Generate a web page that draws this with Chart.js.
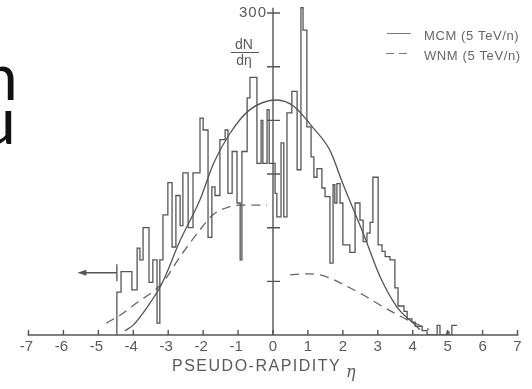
<!DOCTYPE html>
<html lang="en">

<head>
    <meta charset="UTF-8">
    <title>Pseudo-rapidity distribution</title>
    <script src="https://cdn.jsdelivr.net/npm/chart.js"></script>
    <style>
        html, body {
            margin: 0;
            padding: 0;
            background: #fff;
        }

        body {
            width: 532px;
            height: 389px;
            position: relative;
            overflow: hidden;
        }

        #wrap {
            position: absolute;
            left: 0;
            top: 0;
        }

        .slide-text {
            position: absolute;
            font-family: Lato, sans-serif;
            font-size: 64px;
            line-height: 1;
            color: #111;
        }
    </style>
</head>

<body>
    <div class="slide-text" style="left: -18px; top: 44px;">n</div>
    <div class="slide-text" style="left: -20px; top: 88px;">u</div>
    <div id="wrap"><canvas id="grafico" width="532" height="389"></canvas></div>

    <script>
        // histogram: bin edges in eta and counts per bin (one less than edges)
        const binEdges = [-4.47, -4.35, -4.04, -3.89, -3.81, -3.72, -3.55, -3.44, -3.32, -3.24, -3.15, -3.01,
            -2.89, -2.78, -2.66, -2.58, -2.43, -2.29, -2.09, -2.00, -1.86, -1.75, -1.66, -1.52, -1.37, -1.29,
            -1.17, -1.03, -0.94, -0.89, -0.74, -0.66, -0.46, -0.34, -0.29, -0.17, -0.11, 0.06, 0.11, 0.23,
            0.31, 0.40, 0.54, 0.69, 0.80, 0.86, 0.97, 1.09, 1.17, 1.26, 1.40, 1.49, 1.63, 1.72, 1.77, 1.83,
            1.92, 2.00, 2.20, 2.35, 2.49, 2.58, 2.69, 2.78, 2.86, 3.01, 3.12, 3.21, 3.35, 3.49, 3.58, 3.75,
            3.84, 3.98, 4.07, 4.27, 4.41, 4.70, 4.78, 4.98, 5.04, 5.12, 5.27];
        const binCounts = [20, 40, 59, 42, 81, 70, 100, 49, 70, 11, 70, 112,
            142, 82, 130, 102, 151, 100, 151, 202, 191, 91, 138, 130, 182, 191,
            132, 171, 123, 70, 171, 221, 240, 160, 200, 160, 210, 160, 132, 110,
            179, 110, 207, 227, 154, 305, 284, 194, 166, 147, 155, 137, 129, 67, 140, 123,
            141, 123, 84, 77, 123, 107, 87, 95, 105, 147, 84, 78, 73, 70, 44, 27,
            22, 15, 12, 8, 4, 0, 9, 0, 3, 0, 9];

        // MCM (5 TeV/n), solid curve
        const mcmEta = [-4.24, -4.01, -3.6, -3.18, -2.66, -2.09, -1.7, -1.23, -0.66, 0.11, 0.6, 1.15, 1.63, 2.00, 2.58, 3.07, 3.55, 3.98, 4.21];
        const mcmVal = [4, 9, 26, 48, 88, 126, 160, 188, 210, 219, 213, 193, 172, 141, 95, 54, 26, 12, 5];

        // WNM (5 TeV/n), dashed curve, drawn in two pieces
        const wnmLeftEta = [-4.78, -4.4, -3.9, -3.18, -2.66, -2.09, -1.72, -1.3, -0.94, -0.17];
        const wnmLeftVal = [11, 18, 30, 48, 73, 98, 112, 119, 121, 121];
        const wnmRightEta = [0.49, 1.0, 1.35, 1.7, 2.2, 2.6, 3.06, 3.5, 3.92, 4.47];
        const wnmRightVal = [56, 57, 56, 52, 44, 37, 28, 20, 13, 5];

        const etaTicks = [-7, -6, -5, -4, -3, -2, -1, 0, 1, 2, 3, 4, 5, 6, 7];
        const yTicks = [50, 100, 150, 200, 250, 300];
        const yTickLabels = ['', '', '', '', '', '300'];

        const legendNames = ['MCM (5 TeV/n)', 'WNM (5 TeV/n)'];

        const corLinha = '#555';
        const corTexto = '#5a5a5a';

        function pontos(xs, ys) {
            return xs.map((x, i) => ({ x: x, y: ys[i] }));
        }

        const histPontos = [{ x: binEdges[0], y: 0 }].concat(
            binEdges.map((e, i) => ({ x: e, y: i < binCounts.length ? binCounts[i] : 0 }))
        );

        // axes, tick labels, legend and captions drawn on the canvas
        const desenhoEixos = {
            id: 'desenhoEixos',
            afterDatasetsDraw(chart) {
                const ctx = chart.ctx;
                const xs = chart.scales.x;
                const ys = chart.scales.y;
                const y0 = ys.getPixelForValue(0);
                const x0 = xs.getPixelForValue(0);

                ctx.save();
                ctx.strokeStyle = corLinha;
                ctx.fillStyle = corTexto;
                ctx.lineWidth = 1.4;

                // horizontal axis with upward ticks
                ctx.beginPath();
                ctx.moveTo(xs.getPixelForValue(-7) - 1, y0);
                ctx.lineTo(xs.getPixelForValue(7) + 1, y0);
                etaTicks.forEach(t => {
                    const px = xs.getPixelForValue(t);
                    ctx.moveTo(px, y0);
                    ctx.lineTo(px, y0 - 5);
                });
                ctx.stroke();

                ctx.font = '15px "Liberation Sans", Arial, sans-serif';
                ctx.textAlign = 'center';
                ctx.textBaseline = 'top';
                etaTicks.forEach(t => {
                    ctx.fillText(String(t), xs.getPixelForValue(t) - (t < 0 ? 2 : 0), y0 + 4);
                });

                // vertical axis at eta = 0 with crossing ticks
                ctx.beginPath();
                ctx.moveTo(x0, y0);
                ctx.lineTo(x0, ys.getPixelForValue(305));
                yTicks.forEach(v => {
                    const py = ys.getPixelForValue(v);
                    ctx.moveTo(x0 - 6, py);
                    ctx.lineTo(x0 + 7, py);
                });
                ctx.stroke();

                ctx.font = '15px "Liberation Sans", Arial, sans-serif';
                ctx.letterSpacing = '1px';
                ctx.textAlign = 'right';
                ctx.textBaseline = 'middle';
                yTicks.forEach((v, i) => {
                    if (yTickLabels[i]) ctx.fillText(yTickLabels[i], x0 - 6, ys.getPixelForValue(v));
                });
                ctx.letterSpacing = '0px';

                // dN / d-eta
                ctx.font = '14px "Liberation Sans", Arial, sans-serif';
                ctx.textAlign = 'center';
                ctx.fillText('dN', 244, 45);
                ctx.fillText('d\u03B7', 244, 61);
                ctx.beginPath();
                ctx.lineWidth = 1;
                ctx.moveTo(231, 52.5);
                ctx.lineTo(259, 52.5);
                ctx.stroke();

                // axis title
                ctx.font = '16px "Liberation Sans", Arial, sans-serif';
                ctx.letterSpacing = '1.5px';
                ctx.textAlign = 'left';
                ctx.textBaseline = 'middle';
                ctx.fillText('PSEUDO-RAPIDITY', 172, 367);
                ctx.letterSpacing = '0px';
                ctx.font = 'italic 16px "DejaVu Serif", serif';
                ctx.fillText('\u03B7', 346, 373);

                // legend
                ctx.font = '13px "Liberation Sans", Arial, sans-serif';
                ctx.letterSpacing = '0.6px';
                ctx.fillStyle = '#666';
                ctx.strokeStyle = '#777';
                ctx.lineWidth = 1;
                ctx.beginPath();
                ctx.moveTo(387, 33.5);
                ctx.lineTo(411, 33.5);
                ctx.stroke();
                ctx.setLineDash([8, 5]);
                ctx.beginPath();
                ctx.moveTo(386, 53.5);
                ctx.lineTo(411, 53.5);
                ctx.stroke();
                ctx.setLineDash([]);
                ctx.fillText(legendNames[0], 424, 36);
                ctx.fillText(legendNames[1], 424, 56);
                ctx.letterSpacing = '0px';

                // acceptance limit marker with arrow
                const xa = xs.getPixelForValue(binEdges[0]);
                const xb = xs.getPixelForValue(-5.6);
                const ya = ys.getPixelForValue(58);
                ctx.strokeStyle = corLinha;
                ctx.fillStyle = corLinha;
                ctx.lineWidth = 1.3;
                ctx.beginPath();
                ctx.moveTo(xa, ys.getPixelForValue(50));
                ctx.lineTo(xa, ys.getPixelForValue(66));
                ctx.moveTo(xa, ya);
                ctx.lineTo(xb + 4, ya);
                ctx.stroke();
                ctx.beginPath();
                ctx.moveTo(xb, ya);
                ctx.lineTo(xb + 9, ya - 3);
                ctx.lineTo(xb + 9, ya + 3);
                ctx.closePath();
                ctx.fill();

                ctx.restore();
            }
        };

        const ctx = document.getElementById('grafico').getContext('2d');

        new Chart(ctx, {
            type: 'line',
            data: {
                datasets: [
                    {
                        label: 'histograma',
                        data: histPontos,
                        stepped: 'after',
                        borderColor: corLinha,
                        borderWidth: 1.3,
                        pointRadius: 0,
                        fill: false
                    },
                    {
                        label: legendNames[0],
                        data: pontos(mcmEta, mcmVal),
                        cubicInterpolationMode: 'monotone',
                        borderColor: corLinha,
                        borderWidth: 1.3,
                        pointRadius: 0,
                        fill: false
                    },
                    {
                        label: legendNames[1],
                        data: pontos(wnmLeftEta, wnmLeftVal),
                        cubicInterpolationMode: 'monotone',
                        borderColor: '#666',
                        borderDash: [9, 6],
                        borderWidth: 1.3,
                        pointRadius: 0,
                        fill: false
                    },
                    {
                        label: legendNames[1] + ' ',
                        data: pontos(wnmRightEta, wnmRightVal),
                        cubicInterpolationMode: 'monotone',
                        borderColor: '#666',
                        borderDash: [9, 6],
                        borderWidth: 1.3,
                        pointRadius: 0,
                        fill: false
                    }
                ]
            },
            options: {
                responsive: false,
                animation: false,
                layout: {
                    padding: { left: 28.5, right: 14.5, top: 5, bottom: 54 }
                },
                plugins: {
                    legend: { display: false },
                    tooltip: { enabled: false }
                },
                scales: {
                    x: { type: 'linear', min: -7, max: 7, display: false },
                    y: { type: 'linear', min: 0, max: 307.5, display: false }
                }
            },
            plugins: [desenhoEixos]
        });
    </script>
</body>

</html>
